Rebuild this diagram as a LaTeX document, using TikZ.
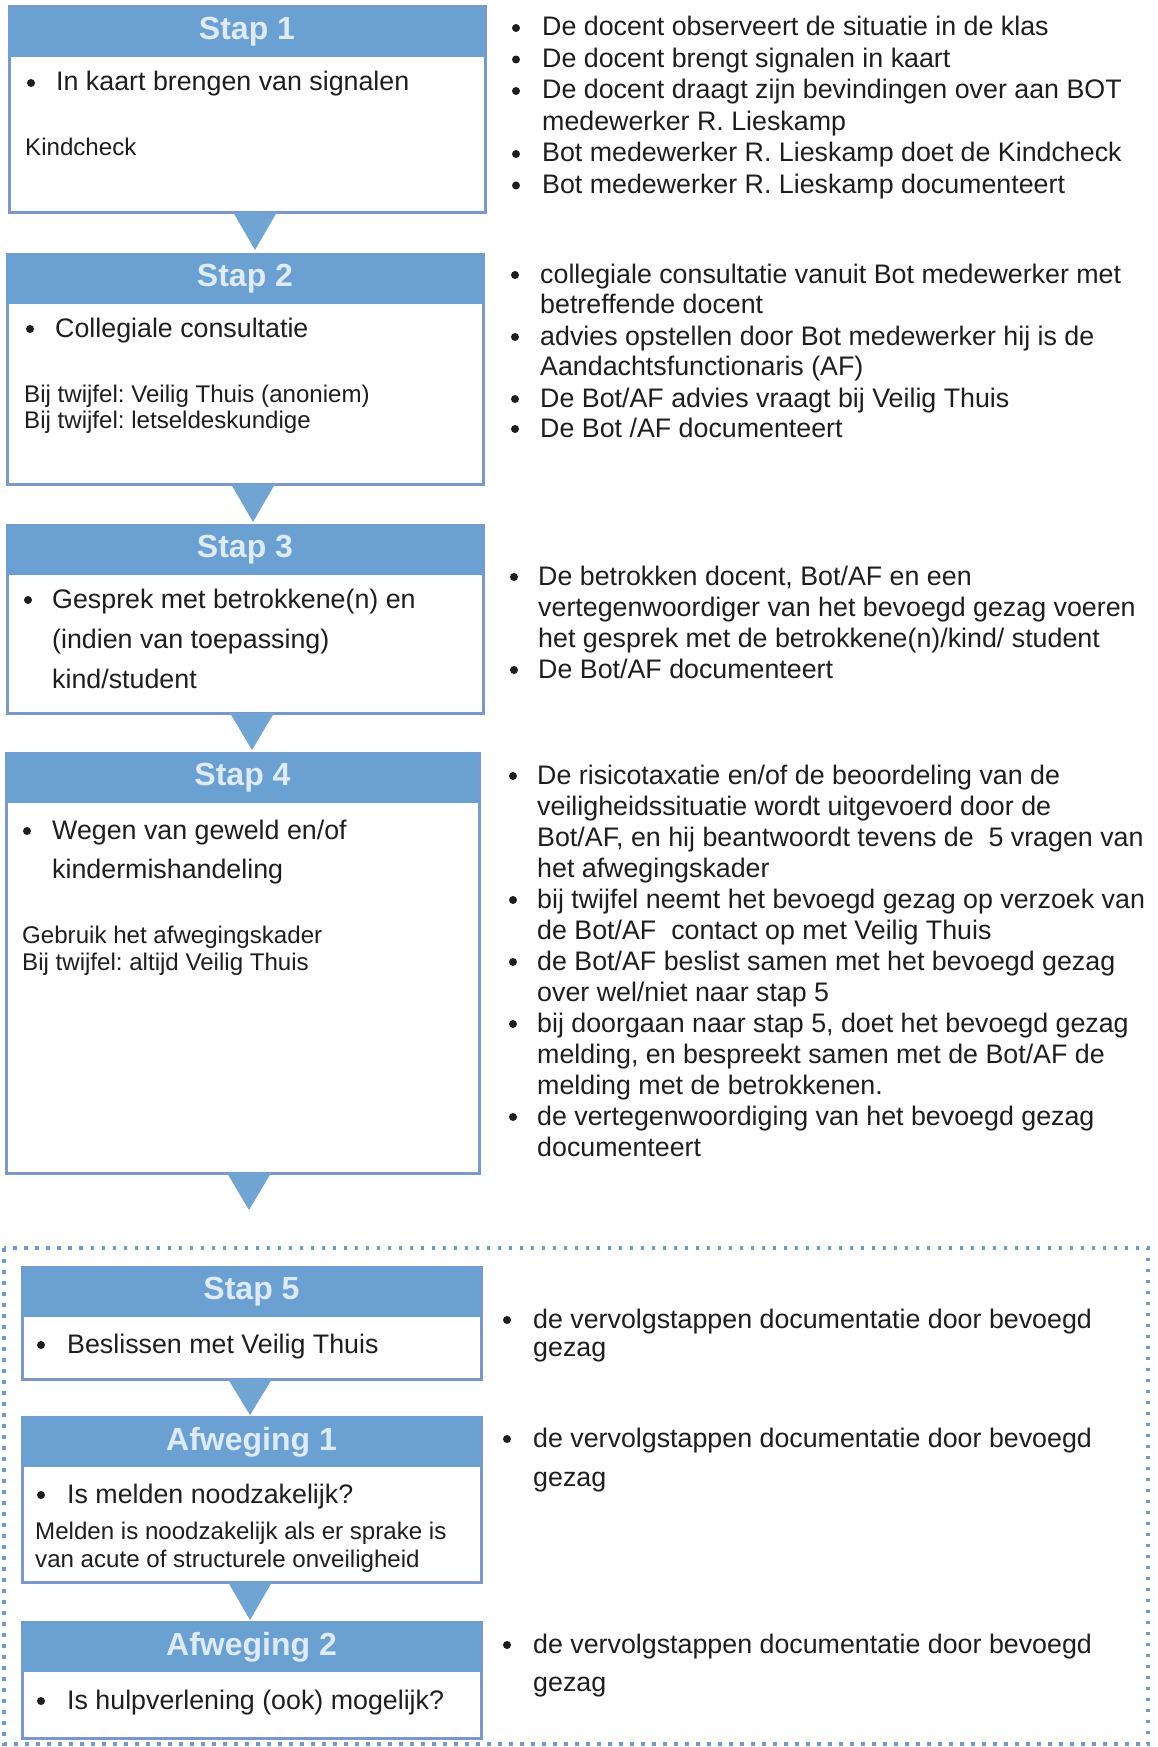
\documentclass[tikz,border=0pt]{standalone}
\usepackage{fontspec}
\setmainfont{Liberation Sans}
\frenchspacing
\definecolor{kader}{RGB}{122,152,204}
\definecolor{kop}{RGB}{107,160,210}
\definecolor{koptekst}{RGB}{222,234,245}
\definecolor{pijl}{RGB}{112,164,211}
\definecolor{stip}{RGB}{110,155,208}
\definecolor{inkt}{RGB}{30,30,30}
\begin{document}
\begin{tikzpicture}[x=1pt,y=-1pt,
    stapbox/.style={draw=kader,line width=3pt,fill=white,anchor=north west,inner sep=0,outer sep=0},
    kopbalk/.style={fill=kop,anchor=north west,inner sep=0,outer sep=0,minimum height=50pt,text=koptekst,font=\fontsize{32}{38}\selectfont\bfseries},
    pijlpunt/.style={fill=pijl},
    stippel/.style={draw=stip,line width=3.5pt,dash pattern=on 3.5pt off 7.5pt},
    tekst/.style={anchor=base west,inner sep=0,text=inkt,font=\fontsize{26.8}{32}\selectfont},
    klein/.style={anchor=base west,inner sep=0,text=inkt,font=\fontsize{24.1}{28}\selectfont},
    bol/.style={circle,fill=inkt,inner sep=0,minimum size=8pt}]
    \useasboundingbox[fill=white] (0,0) rectangle (1157,1747);
    \draw[stippel] (4,1248) rectangle (1148,1744);
    % stappen links
    \node[stapbox,minimum width=476pt,minimum height=205pt] (b1) at (9,7) {};
    \node[kopbalk,minimum width=476pt] (h1) at (9,7) {Stap 1};
    \node[stapbox,minimum width=476pt,minimum height=230pt] (b2) at (7,254) {};
    \node[kopbalk,minimum width=476pt] (h2) at (7,254) {Stap 2};
    \node[stapbox,minimum width=476pt,minimum height=188pt] (b3) at (7,525) {};
    \node[kopbalk,minimum width=476pt] (h3) at (7,525) {Stap 3};
    \node[stapbox,minimum width=473pt,minimum height=420pt] (b4) at (6,753) {};
    \node[kopbalk,minimum width=473pt] (h4) at (6,753) {Stap 4};
    \node[stapbox,minimum width=459pt,minimum height=112pt] (b5) at (22,1267) {};
    \node[kopbalk,minimum width=459pt] (h5) at (22,1267) {Stap 5};
    \node[stapbox,minimum width=459pt,minimum height=165pt] (b6) at (22,1417) {};
    \node[kopbalk,minimum width=459pt] (h6) at (22,1417) {Afweging 1};
    \node[stapbox,minimum width=459pt,minimum height=116pt] (b7) at (22,1622) {};
    \node[kopbalk,minimum width=459pt] (h7) at (22,1622) {Afweging 2};
    \fill[pijlpunt] ([xshift=-14pt]b1.south) -- ([xshift=30pt]b1.south) -- ([xshift=10pt,yshift=4pt]b2.north) -- cycle;
    \fill[pijlpunt] ([xshift=-14pt]b2.south) -- ([xshift=30pt]b2.south) -- ([xshift=8pt,yshift=3pt]b3.north) -- cycle;
    \fill[pijlpunt] ([xshift=-15pt]b3.south) -- ([xshift=29pt]b3.south) -- ([xshift=9.5pt,yshift=3pt]b4.north) -- cycle;
    \coordinate (p4) at ([xshift=6.5pt,yshift=-37pt]b4.south);
    \fill[pijlpunt] ([xshift=-15.5pt]b4.south) -- ([xshift=28.5pt]b4.south) -- (p4) -- cycle;
    \fill[pijlpunt] ([xshift=-23.5pt]b5.south) -- ([xshift=20.5pt]b5.south) -- ([xshift=-1.5pt,yshift=2pt]b6.north) -- cycle;
    \fill[pijlpunt] ([xshift=-23.5pt]b6.south) -- ([xshift=20.5pt]b6.south) -- ([xshift=-1.5pt,yshift=2pt]b7.north) -- cycle;
    % teksten in de stappen
    \node[bol] (s1b) at (31,83) {};
    \node[tekst] (s1a) at (56,91) {In kaart brengen van signalen};
    \node[klein] (s1k) at (25,156) {Kindcheck};
    \node[bol] (s2b) at (30,329) {};
    \node[tekst] (s2a) at (55,337) {Collegiale consultatie};
    \node[klein] (s2k) at (24,402) {Bij twijfel: Veilig Thuis (anoniem)};
    \node[klein] (s2l) at (24,428) {Bij twijfel: letseldeskundige};
    \node[bol] (s3b) at (28,600) {};
    \node[tekst] (s3a) at (52,608) {Gesprek met betrokkene(n) en};
    \node[tekst] (s3c) at (52,648) {(indien van toepassing)};
    \node[tekst] (s3d) at (52,688) {kind/student};
    \node[bol] (s4b) at (27,831) {};
    \node[tekst] (s4a) at (52,839) {Wegen van geweld en/of};
    \node[tekst] (s4c) at (52,878) {kindermishandeling};
    \node[klein] (s4k) at (22,943) {Gebruik het afwegingskader};
    \node[klein] (s4l) at (22,970) {Bij twijfel: altijd Veilig Thuis};
    \node[bol] (s5b) at (41,1345) {};
    \node[tekst] (s5a) at (67,1353) {Beslissen met Veilig Thuis};
    \node[bol] (a1b) at (41,1495) {};
    \node[tekst] (a1a) at (67,1503) {Is melden noodzakelijk?};
    \node[klein] (a1k) at (35,1539) {Melden is noodzakelijk als er sprake is};
    \node[klein] (a1l) at (35,1567) {van acute of structurele onveiligheid};
    \node[bol] (a2b) at (41,1701) {};
    \node[tekst] (a2a) at (67,1709) {Is hulpverlening (ook) mogelijk?};
    % toelichting rechts
    \foreach \y/\t [count=\i] in {36/{De docent observeert de situatie in de klas},
        67.5/{De docent brengt signalen in kaart},
        99/{De docent draagt zijn bevindingen over aan BOT},
        130.5/{medewerker R. Lieskamp},
        162/{Bot medewerker R. Lieskamp doet de Kindcheck},
        193.5/{Bot medewerker R. Lieskamp documenteert}}
        \node[tekst] (r1\i) at (542,\y) {\t};
    \foreach \y [count=\i] in {36,67.5,99,162,193.5}
        \node[bol] (r1b\i) at (516,\y-8) {};
    \foreach \y/\t [count=\i] in {283/{collegiale consultatie vanuit Bot medewerker met},
        313/{betreffende docent},
        345/{advies opstellen door Bot medewerker hij is de},
        375/{Aandachtsfunctionaris (AF)},
        407/{De Bot/AF advies vraagt bij Veilig Thuis},
        437/{De Bot /AF documenteert}}
        \node[tekst] (r2\i) at (540,\y) {\t};
    \foreach \y [count=\i] in {283,345,407,437}
        \node[bol] (r2b\i) at (515,\y-8) {};
    \foreach \y/\t [count=\i] in {585/{De betrokken docent, Bot/AF en een},
        616/{vertegenwoordiger van het bevoegd gezag voeren},
        647/{het gesprek met de betrokkene(n)/kind/ student},
        678/{De Bot/AF documenteert}}
        \node[tekst] (r3\i) at (538,\y) {\t};
    \foreach \y [count=\i] in {585,678}
        \node[bol] (r3b\i) at (514,\y-8) {};
    \foreach \y/\t [count=\i] in {784/{De risicotaxatie en/of de beoordeling van de},
        815/{veiligheidssituatie wordt uitgevoerd door de},
        846/{Bot/AF, en hij beantwoordt tevens de~ 5 vragen van},
        877/{het afwegingskader},
        908/{bij twijfel neemt het bevoegd gezag op verzoek van},
        939/{de Bot/AF~ contact op met Veilig Thuis},
        970/{de Bot/AF beslist samen met het bevoegd gezag},
        1001/{over wel/niet naar stap 5},
        1032/{bij doorgaan naar stap 5, doet het bevoegd gezag},
        1063/{melding, en bespreekt samen met de Bot/AF de},
        1094/{melding met de betrokkenen.},
        1125/{de vertegenwoordiging van het bevoegd gezag},
        1156/{documenteert}}
        \node[tekst] (r4\i) at (537,\y) {\t};
    \foreach \y [count=\i] in {784,908,970,1032,1125}
        \node[bol] (r4b\i) at (513,\y-8) {};
    \foreach \y/\z [count=\i] in {1328/1356,1447/1486,1653/1691}{
        \node[bol] (r5b\i) at (507,\y-8) {};
        \node[tekst] (r5a\i) at (533,\y) {de vervolgstappen documentatie door bevoegd};
        \node[tekst] (r5c\i) at (533,\z) {gezag};
    }
\end{tikzpicture}
\end{document}
